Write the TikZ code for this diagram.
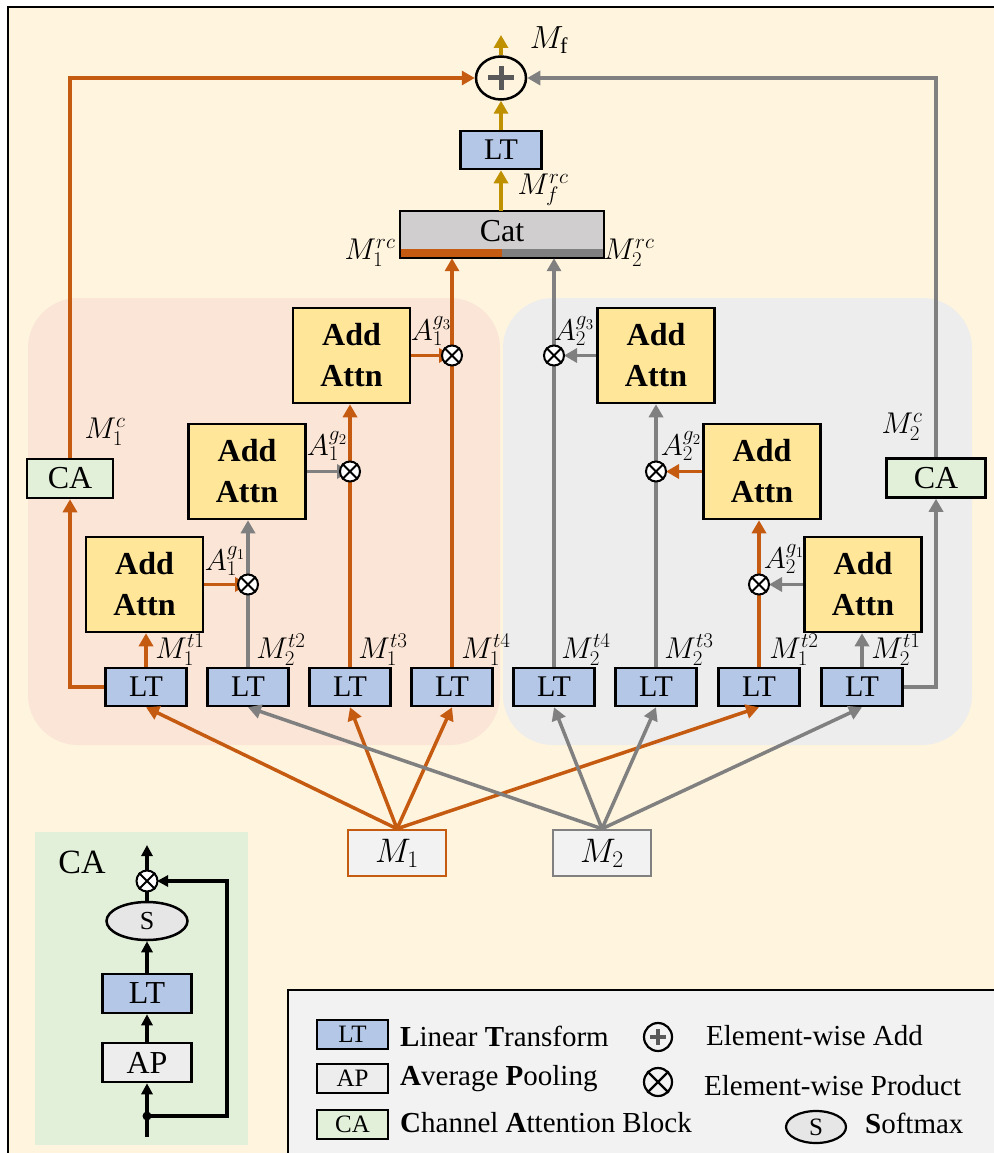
\RequirePackage{fix-cm}
\documentclass[tikz,border=0pt]{standalone}
\usepackage{fontspec}
\setmainfont{Liberation Serif}
\newfontfamily\tnr{Liberation Serif}
\usetikzlibrary{arrows.meta,calc,shapes.geometric}
\definecolor{cream}{RGB}{255,244,222}
\definecolor{pinkbg}{RGB}{251,229,214}
\definecolor{graybg}{RGB}{237,237,237}
\definecolor{ltblue}{RGB}{180,199,231}
\definecolor{aayel}{RGB}{255,230,153}
\definecolor{cagreen}{RGB}{226,240,217}
\definecolor{catgray}{RGB}{208,206,206}
\definecolor{cOr}{RGB}{197,90,17}
\definecolor{cGr}{RGB}{128,128,128}
\definecolor{cGold}{RGB}{191,144,0}
\definecolor{boxgray}{RGB}{242,242,242}
\definecolor{apgray}{RGB}{237,237,237}
\definecolor{sgray}{RGB}{231,230,230}
\definecolor{plusgray}{RGB}{89,89,89}
\newcommand\prodat[3]{%
  \node[prod,minimum size=#3] (#1) at (#2) {};
  \draw[line width=2] (#1.north east)--(#1.south west) (#1.north west)--(#1.south east);}
\begin{document}
\begin{tikzpicture}[x=1pt,y=-1pt,
  ltbox/.style={draw=black,line width=2.5,fill=ltblue,minimum width=81,minimum height=38,inner sep=0,font=\tnr\fontsize{30}{30}\selectfont},
  aabox/.style={draw=black,line width=2.5,fill=aayel,minimum width=117,minimum height=95,inner sep=0,align=center,font=\tnr\fontsize{32}{41}\selectfont\bfseries},
  cabox/.style={draw=black,line width=2.5,fill=cagreen,minimum height=39,inner sep=0,font=\tnr\fontsize{32}{32}\selectfont},
  prod/.style={circle,draw=black,line width=2,fill=white,inner sep=0},
  mlab/.style={font=\fontsize{30}{30}\selectfont,inner sep=0},
  tip/.style={-{Triangle[length=13pt,width=14pt]}},
  oarr/.style={draw=cOr,line width=3.5,tip},
  garr/.style={draw=cGr,line width=3.5,tip},
  yarr/.style={draw=cGold,line width=3.5,tip},
  barr/.style={draw=black,line width=3.5,-{Triangle[length=11pt,width=11pt]}},
  legtxt/.style={font=\tnr\fontsize{29}{29}\selectfont,inner sep=0,anchor=base west}
]
\useasboundingbox (0,0) rectangle (993,1153);
\fill[white] (0,0) rectangle (993,1153);
\fill[cream] (8,7) rectangle (1000,1160);
\draw[line width=2.5] (8,1160) -- (8,7) -- (1000,7);
% group regions
\fill[pinkbg,rounded corners=50] (28,298) rectangle (500,745);
\fill[graybg,rounded corners=50] (503,298) rectangle (972,745);
% CA inset and legend backgrounds
\fill[cagreen] (35,832) rectangle (248,1145);
\draw[line width=2.5,fill=boxgray] (288,990) rectangle (1000,1160);

% LT row
\foreach \n/\x in {1/146,2/248,3/350,4/452,5/554,6/656,7/759,8/862}
  \node[ltbox] (lt\n) at (\x,687) {LT};
% Add Attn
\node[aabox] (aL1) at (144.5,584.5) {Add\\Attn};
\node[aabox] (aL2) at (247,471.5) {Add\\Attn};
\node[aabox] (aL3) at (351.5,355.5) {Add\\Attn};
\node[aabox] (aR3) at (656,355.5) {Add\\Attn};
\node[aabox] (aR2) at (762,471.5) {Add\\Attn};
\node[aabox] (aR1) at (863,584.5) {Add\\Attn};
% CA
\node[cabox,minimum width=86] (ca1) at (70,478.5) {CA};
\node[cabox,minimum width=99] (ca2) at (936,478) {CA};
% Cat
\node[minimum width=204,minimum height=47,inner sep=0,fill=catgray] (cat) at (502,234.5) {};
\fill[cOr] (cat.south west) rectangle ($(cat.south)+(0,-9)$);
\fill[cGr] (cat.south) rectangle ($(cat.south east)+(0,-9)$);
\draw[line width=2.5] (cat.south west) rectangle (cat.north east);
\node[font=\tnr\fontsize{32}{32}\selectfont] (cattext) at (502,231) {Cat};
% top
\node[ltbox] (ltT) at (501,150) {LT};
\node[ellipse,draw,line width=2.5,fill=cream,minimum width=50,minimum height=43,inner sep=0] (plus) at (501,78) {};
\draw[plusgray,line width=5] ($(plus)+(-13,0)$) -- ($(plus)+(13,0)$) ($(plus)+(0,-12)$) -- ($(plus)+(0,12)$);
\coordinate (fout) at (501,35);
\draw[yarr] (ltT.south |- cat.north) -- (ltT.south);
\draw[yarr] (ltT.north) -- (plus.south);
\draw[yarr] (plus.north) -- (fout);

% inputs
\node[draw=cOr,line width=2.5,fill=boxgray,minimum width=98,minimum height=46,font=\fontsize{34}{34}\selectfont] (m1) at (397,853) {$M_1$};
\node[draw=cGr,line width=2.5,fill=boxgray,minimum width=98,minimum height=46,font=\fontsize{34}{34}\selectfont] (m2) at (602,853) {$M_2$};
\foreach \t in {lt1,lt3,lt4,lt7} \draw[oarr] (m1.north) -- (\t.south);
\foreach \t in {lt2,lt5,lt6,lt8} \draw[garr] (m2.north) -- (\t.south);

% left branch
\draw[oarr] (lt1.north) -- (lt1.north |- aL1.south);
\draw[garr] (lt2.north) -- (lt2.north |- aL2.south);
\draw[oarr] (lt3.north) -- (lt3.north |- aL3.south);
\draw[oarr] (lt4.north) -- (lt4.north |- cat.south);
\draw[oarr] (aL1.east) -- (lt2.north |- aL1.east) coordinate (pL1c);
\draw[garr] (aL2.east) -- (lt3.north |- aL2.east) coordinate (pL2c);
\draw[oarr] (aL3.east) -- (lt4.north |- aL3.east) coordinate (pL3c);
\draw[oarr] (lt1.west) -| (ca1.south);
\draw[oarr] (ca1.north) |- (plus.west);
% right branch
\draw[garr] (lt8.north) -- (lt8.north |- aR1.south);
\draw[oarr] (lt7.north) -- (lt7.north |- aR2.south);
\draw[garr] (lt6.north) -- (lt6.north |- aR3.south);
\draw[garr] (lt5.north) -- (lt5.north |- cat.south);
\draw[garr] (aR1.west) -- ($(lt7.north |- aR1.west)+(10,0)$);
\draw[oarr] (aR2.west) -- ($(lt6.north |- aR2.west)+(10,0)$);
\draw[garr] (aR3.west) -- ($(lt5.north |- aR3.west)+(10,0)$);
\draw[garr] (lt8.east) -| (ca2.south);
\draw[garr] (ca2.north) |- (plus.east);

% product circles
\prodat{pL1}{lt2.north |- aL1.east}{20}
\prodat{pL2}{lt3.north |- aL2.east}{20}
\prodat{pL3}{lt4.north |- aL3.east}{20}
\prodat{pR1}{lt7.north |- aR1.west}{20}
\prodat{pR2}{lt6.north |- aR2.west}{20}
\prodat{pR3}{lt5.north |- aR3.west}{20}

% labels
\node[font=\fontsize{32}{32}\selectfont,inner sep=0] (lmf) at (549,40) {$M_{\mathrm{f}}$};
\node[mlab] (lmfrc) at (543,190) {$M_f^{rc}$};
\node[mlab] (lm1rc) at (370,253) {$M_1^{rc}$};
\node[mlab] (lm2rc) at (629,253) {$M_2^{rc}$};
\node[mlab] (lm1c) at (105,432) {$M_1^{c}$};
\node[mlab] (lm2c) at (902,427) {$M_2^{c}$};
\node[mlab] at (180,650) {$M_1^{t1}$};
\node[mlab] at (281,650) {$M_2^{t2}$};
\node[mlab] at (383,650) {$M_1^{t3}$};
\node[mlab] at (486,650) {$M_1^{t4}$};
\node[mlab] at (586,650) {$M_2^{t4}$};
\node[mlab] at (689,650) {$M_2^{t3}$};
\node[mlab] at (794,650) {$M_1^{t2}$};
\node[mlab] at (896,650) {$M_2^{t1}$};
\node[mlab] at (225,561) {$A_1^{g_1}$};
\node[mlab] at (327,446) {$A_1^{g_2}$};
\node[mlab] at (431,331) {$A_1^{g_3}$};
\node[mlab] at (574,331) {$A_2^{g_3}$};
\node[mlab] at (681,446) {$A_2^{g_2}$};
\node[mlab] at (784,559) {$A_2^{g_1}$};

% CA inset
\node[font=\tnr\fontsize{34}{34}\selectfont,inner sep=0] (catitle) at (82,862) {CA};
\node[ellipse,draw,line width=2.5,fill=sgray,minimum width=81,minimum height=38,inner sep=0,font=\tnr\fontsize{26}{26}\selectfont] (sN) at (147,921) {S};
\node[ltbox,minimum width=89,minimum height=39,font=\tnr\fontsize{32}{32}\selectfont] (ltC) at (147,993.5) {LT};
\node[ltbox,fill=apgray,minimum width=89,minimum height=39,font=\tnr\fontsize{32}{32}\selectfont] (apC) at (147,1062.5) {AP};
\coordinate (dot) at (147,1116);
\coordinate (cin) at (147,1137);
\coordinate (cout) at (147,845);
\coordinate (cr) at (227,1116);
\coordinate (cpc) at (147,881);
\draw[line width=3.5] (cin) -- (dot);
\draw[barr] (dot) -- (apC.south);
\draw[barr] (apC.north) -- (ltC.south);
\draw[barr] (ltC.north) -- (sN.south);
\draw[line width=3.5] (sN.north) -- (cpc);
\draw[barr] (cpc) ++(0,-10) -- (cout);
\draw[barr,line join=miter] (dot) -- (cr) -- (cr |- cpc) -- ($(cpc)+(10,0)$);
\fill (dot) circle (4.5);
\prodat{cp}{cpc}{21}

% legend
\node[ltbox,minimum width=71,minimum height=29,font=\tnr\fontsize{25}{25}\selectfont] (legLT) at (352.5,1034.5) {LT};
\node[ltbox,fill=apgray,minimum width=71,minimum height=29,font=\tnr\fontsize{25}{25}\selectfont] (legAP) at (352.5,1078.5) {AP};
\node[cabox,minimum width=71,minimum height=29,font=\tnr\fontsize{25}{25}\selectfont] (legCA) at (352.5,1124.5) {CA};
\node[legtxt] (tLT) at (400,1046) {\textbf{L}inear \textbf{T}ransform};
\node[legtxt] (tAP) at (400,1085) {\textbf{A}verage \textbf{P}ooling};
\node[legtxt] (tCA) at (400,1132) {\textbf{C}hannel \textbf{A}ttention Block};
\node[circle,draw,line width=2.2,fill=boxgray,minimum size=28,inner sep=0] (legPlus) at (658,1037) {};
\draw[plusgray,line width=4] ($(legPlus)+(-8,0)$) -- ($(legPlus)+(8,0)$) ($(legPlus)+(0,-8)$) -- ($(legPlus)+(0,8)$);
\node[circle,draw,line width=2.2,fill=boxgray,minimum size=28,inner sep=0] (legProd) at (658,1082) {};
\draw[line width=2.2] (legProd.north east)--(legProd.south west) (legProd.north west)--(legProd.south east);
\node[ellipse,draw,line width=2.2,fill=sgray,minimum width=60,minimum height=32,inner sep=0,font=\tnr\fontsize{25}{25}\selectfont] (legS) at (816,1127) {S};
\node[legtxt] (tAdd) at (706,1045) {Element-wise Add};
\node[legtxt] (tProd) at (704,1095) {Element-wise Product};
\node[legtxt] (tS) at (865,1133) {\textbf{S}oftmax};
\end{tikzpicture}
\end{document}
